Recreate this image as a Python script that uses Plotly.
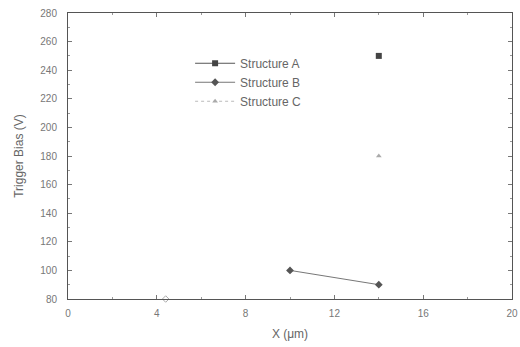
import plotly.graph_objects as go

# Data
a_x = [14]
a_y = [250]
b_x = [10, 14]
b_y = [100, 90]
c_x = [14]
c_y = [180]
stray_x = [4.4]
stray_y = [80]

x_ticks = [0, 4, 8, 12, 16, 20]
y_ticks = [80, 100, 120, 140, 160, 180, 200, 220, 240, 260, 280]

fig = go.Figure()
fig.add_trace(go.Scatter(x=a_x, y=a_y, mode="lines+markers", name="Structure A",
                         line=dict(color="#555", width=1),
                         marker=dict(symbol="square", size=6, color="#444")))
fig.add_trace(go.Scatter(x=b_x, y=b_y, mode="lines+markers", name="Structure B",
                         line=dict(color="#777", width=1),
                         marker=dict(symbol="diamond", size=6, color="#555")))
fig.add_trace(go.Scatter(x=c_x, y=c_y, mode="lines+markers", name="Structure C",
                         line=dict(color="#bbb", width=1, dash="dot"),
                         marker=dict(symbol="triangle-up", size=5, color="#aaa")))
fig.add_trace(go.Scatter(x=stray_x, y=stray_y, mode="markers", showlegend=False,
                         marker=dict(symbol="diamond-open", size=5, color="#aaa"),
                         cliponaxis=False))

axis_common = dict(showline=True, linecolor="#555", linewidth=1, mirror="ticks",
                   ticks="inside", ticklen=4, tickcolor="#777", showgrid=False,
                   zeroline=False, automargin=False,
                   tickfont=dict(family="Liberation Sans", size=10, color="#777"))

fig.update_xaxes(range=[0, 20], tickvals=x_ticks, ticklabelstandoff=5,
                 minor=dict(ticks="inside", ticklen=2, dtick=2, tickcolor="#999"),
                 title=dict(text="X (μm)", font=dict(family="Liberation Sans", size=12, color="#666"), standoff=11),
                 **axis_common)
fig.update_yaxes(range=[80, 280], tickvals=y_ticks, ticklabelstandoff=8,
                 minor=dict(ticks="inside", ticklen=2, dtick=10, tickcolor="#999"),
                 title=dict(text="Trigger Bias (V)", font=dict(family="Liberation Sans", size=12, color="#666"), standoff=14),
                 **axis_common)

fig.update_layout(
    width=520, height=347,
    margin=dict(l=68, r=8, t=13, b=48, autoexpand=False),
    paper_bgcolor="white", plot_bgcolor="white",
    legend=dict(x=0.275, y=0.875, xanchor="left", yanchor="top",
                font=dict(family="Liberation Sans", size=12, color="#666"),
                bgcolor="rgba(0,0,0,0)", tracegroupgap=0, itemwidth=40),
)

fig.write_html("out.html", config={"displayModeBar": False},
               post_script="document.body.style.margin='0';")
